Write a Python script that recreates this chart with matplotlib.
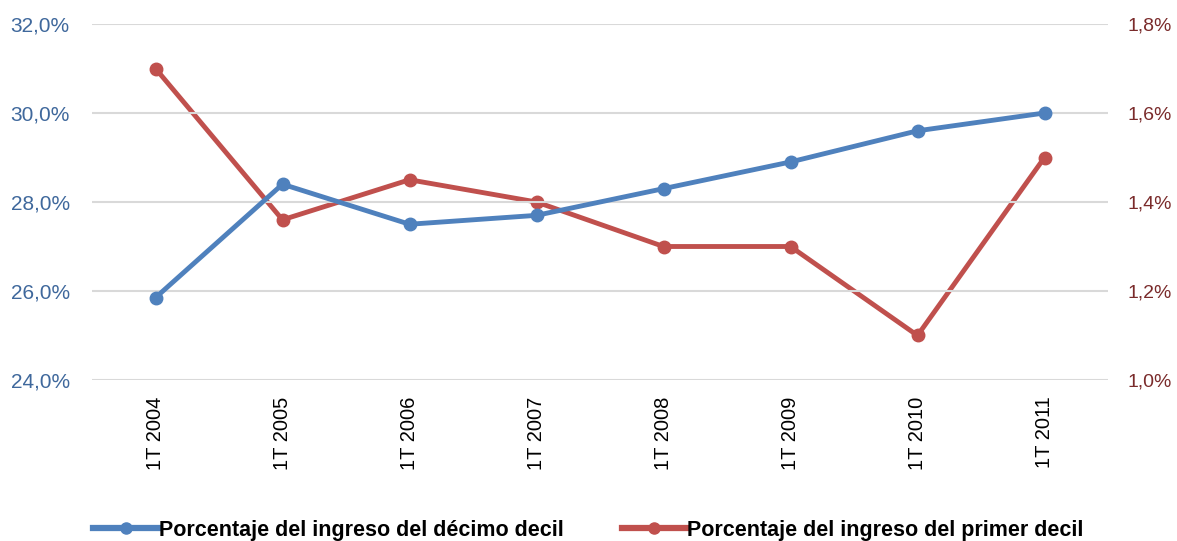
import matplotlib
matplotlib.use("Agg")
import matplotlib.pyplot as plt
from matplotlib.lines import Line2D

categories = ["1T 2004", "1T 2005", "1T 2006", "1T 2007", "1T 2008", "1T 2009", "1T 2010", "1T 2011"]
decimo = [25.85, 28.4, 27.5, 27.7, 28.3, 28.9, 29.6, 30.0]
primero = [1.70, 1.36, 1.45, 1.40, 1.30, 1.30, 1.10, 1.50]
left_ticks = [24, 26, 28, 30, 32]
right_ticks = [1.0, 1.2, 1.4, 1.6, 1.8]

plt.rcParams['font.family'] = ['Liberation Sans', 'DejaVu Sans']
blue = "#4F81BD"
red = "#C0504D"

fig = plt.figure(figsize=(11.77, 5.41), dpi=100)
ax = fig.add_axes([92/1177, 1-380/541, (1108-92)/1177, (380-24)/541])
ax2 = ax.twinx()

x = list(range(len(categories)))
ax.plot(x, decimo, color=blue, lw=3.5, marker='o', ms=9, zorder=3)
ax2.plot(x, primero, color=red, lw=3.5, marker='o', ms=9, zorder=3)

ax.set_xlim(-0.5, len(categories)-0.5)
ax.set_ylim(24, 32)
ax2.set_ylim(1.0, 1.8)
ax.set_yticks(left_ticks)
ax.set_yticklabels([f"{v:.1f}%".replace('.', ',') for v in left_ticks], color="#3F689C", fontsize=15)
ax2.set_yticks(right_ticks)
ax2.set_yticklabels([f"{v:.1f}%".replace('.', ',') for v in right_ticks], color="#7A2B2B", fontsize=14)
ax.set_xticks(x)
ax.set_xticklabels(categories, rotation=90, fontsize=14.5, color="black")
ax.grid(axis='y', color="#D9D9D9", lw=1.5)
ax.set_axisbelow(True)
for a in (ax, ax2):
    for s in a.spines.values():
        s.set_visible(False)
    a.tick_params(length=0)
ax.tick_params(axis='y', pad=16)
ax2.tick_params(axis='y', pad=14)
ax.tick_params(axis='x', pad=12)
ax.set_zorder(ax2.get_zorder()+1)
ax.patch.set_visible(False)

handles = [Line2D([], [], color=blue, lw=4.5, marker='o', ms=8),
           Line2D([], [], color=red, lw=4.5, marker='o', ms=8)]
labels = ["Porcentaje del ingreso del décimo decil", "Porcentaje del ingreso del primer decil"]
fig.legend(handles, labels, loc='lower center', bbox_to_anchor=(0.5, -0.035), ncol=2, frameon=False,
           prop={'weight': 'bold', 'size': 15.5}, handlelength=3.0, handletextpad=0.05, columnspacing=2.7)

fig.savefig("out.png", dpi=100)
